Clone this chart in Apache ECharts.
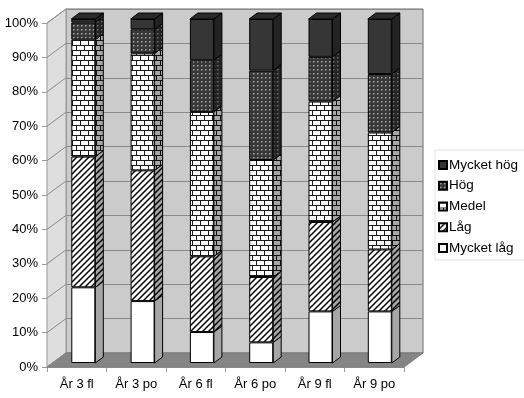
<!DOCTYPE html>
<html>
<head>
<meta charset="utf-8">
<script src="https://cdn.jsdelivr.net/npm/echarts@6/dist/echarts.min.js"></script>
<style>
 html, body { margin: 0; padding: 0; background: #fff; }
 #main { width: 524px; height: 398px; }
</style>
</head>
<body>
<div id="main"></div>
<script>
var categories = ['År 3 fl', 'År 3 po', 'År 6 fl', 'År 6 po', 'År 9 fl', 'År 9 po'];
var seriesNames = ['Mycket låg', 'Låg', 'Medel', 'Hög', 'Mycket hög'];
var mycketLag = [22, 18, 9, 6, 15, 15];
var lag = [38, 38, 22, 19, 26, 18];
var medel = [34, 34, 42, 34, 35, 34];
var hog = [5, 7, 15, 26, 13, 17];
var mycketHog = [1, 3, 12, 15, 11, 16];
var yTicks = [0, 10, 20, 30, 40, 50, 60, 70, 80, 90, 100];

var FONT = '"Liberation Sans", Arial, sans-serif';
var BAR_W = 24;
var BAR_DX = 8, BAR_DY = 6;   // bar depth
var WALL_DX = 19, WALL_DY = 14; // chart depth

// fill patterns
function pattern(kind) {
  var c = document.createElement('canvas');
  var ctx;
  if (kind === 'hatch') {
    c.width = 6; c.height = 6; ctx = c.getContext('2d');
    ctx.fillStyle = '#fff'; ctx.fillRect(0, 0, 6, 6);
    ctx.strokeStyle = '#000'; ctx.lineWidth = 1.5;
    ctx.beginPath();
    ctx.moveTo(-1, 7); ctx.lineTo(7, -1);
    ctx.moveTo(-4, 4); ctx.lineTo(4, -4);
    ctx.moveTo(2, 10); ctx.lineTo(10, 2);
    ctx.stroke();
  } else if (kind === 'brick') {
    c.width = 8; c.height = 10; ctx = c.getContext('2d');
    ctx.fillStyle = '#fff'; ctx.fillRect(0, 0, 8, 10);
    ctx.fillStyle = '#1a1a1a';
    ctx.fillRect(0, 0, 8, 1); ctx.fillRect(0, 5, 8, 1);
    ctx.fillRect(0, 0, 1, 5); ctx.fillRect(4, 5, 1, 5);
  } else if (kind === 'dots') {
    c.width = 4; c.height = 4; ctx = c.getContext('2d');
    ctx.fillStyle = '#383838'; ctx.fillRect(0, 0, 4, 4);
    ctx.fillStyle = '#a8a8a8'; ctx.fillRect(1, 1, 1.5, 1.5);
  }
  return { image: c, repeat: 'repeat' };
}

var fills = ['#ffffff', pattern('hatch'), pattern('brick'), pattern('dots'), '#363636'];
var values = [mycketLag, lag, medel, hog, mycketHog];

// cumulative segments for the side/top faces
var faces = [];
categories.forEach(function (c, i) {
  var base = 0;
  values.forEach(function (arr, s) {
    faces.push([i, base, base + arr[i], s]);
    base += arr[i];
  });
});

var myChart = echarts.init(document.getElementById('main'));

var option = {
  backgroundColor: '#fff',
  animation: false,
  textStyle: { fontFamily: FONT },
  legend: {
    data: seriesNames.slice().reverse(),
    orient: 'vertical',
    left: 435,
    top: 150,
    icon: 'rect',
    itemWidth: 8,
    itemHeight: 8,
    itemGap: 6.75,
    padding: [8, 8, 5, 3],
    backgroundColor: '#fff',
    borderColor: '#e2e2e2',
    borderWidth: 1,
    textStyle: { fontSize: 13.5, color: '#000', fontFamily: FONT, padding: [0, 0, 0, -3] }
  },
  grid: [
    { left: 47, top: 23, width: 357, height: 344 },                       // front axis plane
    { left: 47 + WALL_DX, top: 23 - WALL_DY, width: 357, height: 344,     // back wall
      show: true, backgroundColor: '#cbcbcb', borderColor: '#6a6a6a', borderWidth: 1 },
    { left: 53.65, top: 19, width: 355.8, height: 344 }                   // bars
  ],
  xAxis: [
    { gridIndex: 0, type: 'category', data: categories,
      axisLine: { lineStyle: { color: '#9a9a9a' } },
      axisTick: { show: true, length: 5, lineStyle: { color: '#9a9a9a' } },
      axisLabel: { fontSize: 13, color: '#000', margin: 11, fontFamily: FONT } },
    { gridIndex: 1, type: 'category', data: categories, show: false },
    { gridIndex: 2, type: 'category', data: categories, show: false }
  ],
  yAxis: [
    { gridIndex: 0, type: 'value', min: 0, max: 100, interval: 10,
      axisLine: { show: true, lineStyle: { color: '#9a9a9a' } },
      axisTick: { show: true, length: 5, lineStyle: { color: '#9a9a9a' } },
      splitLine: { show: false },
      axisLabel: { formatter: '{value}%', fontSize: 13, color: '#000', margin: 9, fontFamily: FONT } },
    { gridIndex: 1, type: 'value', min: 0, max: 100, interval: 10,
      axisLine: { show: false }, axisTick: { show: false }, axisLabel: { show: false },
      splitLine: { show: true, lineStyle: { color: '#8a8a8a', width: 1 } } },
    { gridIndex: 2, type: 'value', min: 0, max: 100, show: false }
  ],
  series: []
};

// floor and left wall, hung on the front axis
option.series.push({
  type: 'custom',
  xAxisIndex: 0, yAxisIndex: 0,
  z: 1, silent: true,
  data: [[0]],
  renderItem: function (params, api) {
    var band = api.size([1, 0])[0];
    var xL = api.coord([0, 0])[0] - band / 2;
    var xR = xL + band * categories.length;
    var y0 = api.coord([0, 0])[1];
    var y100 = api.coord([0, 100])[1];
    var kids = [
      { type: 'polygon', shape: { points: [[xL, y100], [xL + WALL_DX, y100 - WALL_DY], [xL + WALL_DX, y0 - WALL_DY], [xL, y0]] },
        style: { fill: '#dedede', stroke: '#9a9a9a', lineWidth: 1 } },
      { type: 'polygon', shape: { points: [[xL, y0], [xR, y0], [xR + WALL_DX, y0 - WALL_DY], [xL + WALL_DX, y0 - WALL_DY]] },
        style: { fill: '#858585', stroke: '#7a7a7a', lineWidth: 1 } }
    ];
    yTicks.forEach(function (v) {
      var y = api.coord([0, v])[1];
      kids.push({ type: 'line', shape: { x1: xL, y1: y, x2: xL + WALL_DX, y2: y - WALL_DY },
        style: { stroke: '#8a8a8a', lineWidth: 1 } });
    });
    return { type: 'group', children: kids };
  }
});

// front faces
seriesNames.forEach(function (name, s) {
  option.series.push({
    name: name,
    type: 'bar',
    stack: 'total',
    xAxisIndex: 2, yAxisIndex: 2,
    barWidth: BAR_W,
    z: 3,
    itemStyle: { color: fills[s], borderColor: '#000', borderWidth: 1 },
    data: values[s]
  });
});

// side and top faces
option.series.push({
  type: 'custom',
  xAxisIndex: 2, yAxisIndex: 2,
  z: 3, silent: true,
  data: faces,
  renderItem: function (params, api) {
    var i = api.value(0), b = api.value(1), t = api.value(2), s = api.value(3);
    var pb = api.coord([i, b]), pt = api.coord([i, t]);
    var xl = pb[0] - BAR_W / 2, xr = pb[0] + BAR_W / 2;
    var side = [[xr, pt[1]], [xr + BAR_DX, pt[1] - BAR_DY], [xr + BAR_DX, pb[1] - BAR_DY], [xr, pb[1]]];
    var kids = [
      { type: 'polygon', shape: { points: side }, style: { fill: fills[s], stroke: '#000', lineWidth: 1 } },
      { type: 'polygon', shape: { points: side }, style: { fill: 'rgba(0,0,0,0.35)' } }
    ];
    if (s === values.length - 1) {
      kids.push({ type: 'polygon',
        shape: { points: [[xl, pt[1]], [xl + BAR_DX, pt[1] - BAR_DY], [xr + BAR_DX, pt[1] - BAR_DY], [xr, pt[1]]] },
        style: { fill: '#2a2a2a', stroke: '#000', lineWidth: 1 } });
    }
    return { type: 'group', children: kids };
  }
});

myChart.setOption(option);
window.onresize = myChart.resize;
</script>
</body>
</html>
